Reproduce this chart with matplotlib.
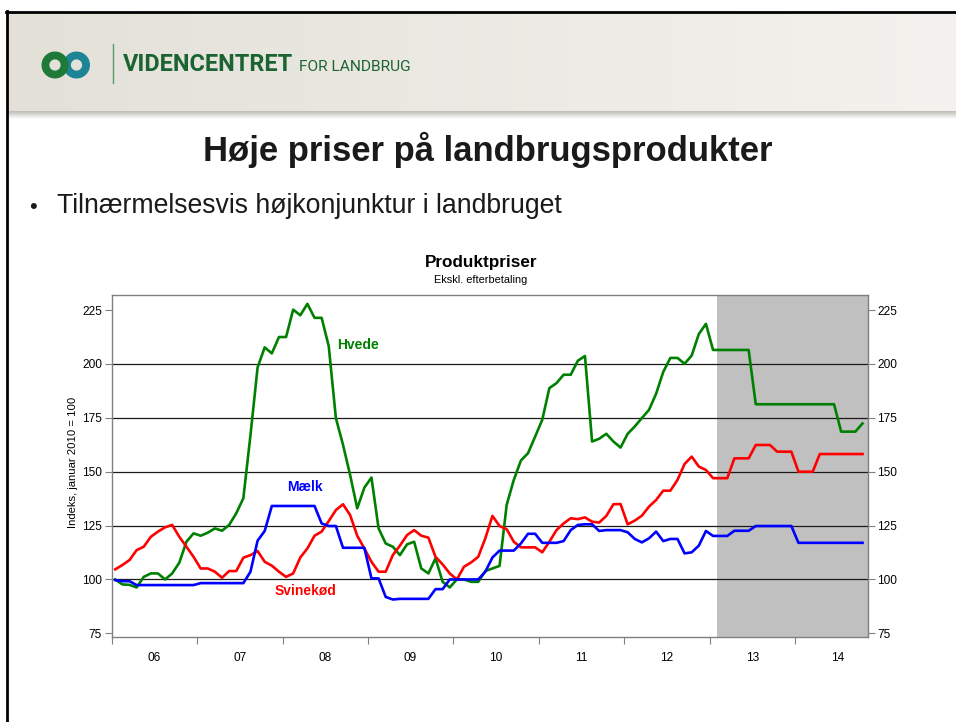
import numpy as np
import matplotlib
matplotlib.use("Agg")
import matplotlib.pyplot as plt
from matplotlib.patches import Wedge
from matplotlib.lines import Line2D
from matplotlib import font_manager

# ---------------- data (monthly, Jan 2006 - Oct 2014, index Jan 2010 = 100) ----------------
start_year = 2006
hvede = [100, 97.7, 97.5, 96.3, 101.2, 102.8, 102.8, 100, 102.8, 107.8, 117.5, 121.4,
         120.3, 121.7, 123.7, 122.6, 125.3, 130.7, 137.7, 167, 198.4, 207.7, 204.9, 212.5,
         212.5, 225.2, 222.6, 227.9, 221.4, 221.4, 208.2, 174.9, 162.5, 148.5, 133, 142.6,
         147.3, 123.7, 116.7, 115.2, 111.3, 116.3, 117.5, 105.1, 102.8, 109.8, 98.9, 96.3,
         100, 100, 98.9, 98.9, 103.9, 105.1, 106.3, 134.6, 146.2, 155.2, 158.6, 166.3,
         174.1, 188.8, 191.1, 195, 195, 201.5, 203.7, 164, 165.3, 167.6, 164, 161.2,
         167.6, 171, 174.9, 178.7, 186.2, 196.3, 202.8, 202.8, 200.1, 203.9, 213.9, 218.6,
         206.5, 206.5, 206.5, 206.5, 206.5, 206.5, 181.3, 181.3, 181.3, 181.3, 181.3, 181.3,
         181.3, 181.3, 181.3, 181.3, 181.3, 181.3, 168.6, 168.6, 168.6, 172.4]
svinekod = [104.7, 106.7, 109, 113.6, 115.2, 119.8, 122.2, 124.2, 125.3, 119.8, 115.2, 110.5,
            105.1, 105.1, 103.6, 100.8, 103.9, 103.9, 110.1, 111.3, 113.2, 108.2, 106.4, 103.6,
            101.2, 102.8, 110.2, 114.4, 120.3, 122.2, 127.1, 132.2, 134.9, 129.9, 120.3, 114.4,
            108.2, 103.6, 103.6, 111.3, 115.7, 120.6, 122.9, 120.3, 119.4, 110.5, 107, 102.8,
            100, 105.9, 107.9, 110.5, 119.1, 129.5, 124.8, 123.3, 117.5, 114.9, 114.9, 114.9,
            112.6, 117.5, 122.9, 126, 128.4, 128, 128.8, 126.8, 126.4, 129.5, 134.9, 135,
            125.6, 127.3, 129.6, 133.8, 136.9, 141.2, 141.2, 146.2, 153.6, 157, 152.4, 150.8,
            147, 147, 147, 156.2, 156.2, 156.2, 162.4, 162.4, 162.4, 159.3, 159.3, 159.3,
            150, 150, 150, 158.2, 158.2, 158.2, 158.2, 158.2, 158.2, 158.2]
maelk = [99.7, 99.2, 99.2, 97.4, 97.4, 97.4, 97.4, 97.4, 97.4, 97.4, 97.4, 97.4,
         98.3, 98.3, 98.3, 98.3, 98.3, 98.3, 98.3, 103.6, 118, 122.5, 134.1, 134.1,
         134.1, 134.1, 134.1, 134.1, 134.1, 126, 124.8, 124.8, 114.7, 114.7, 114.7, 114.7,
         100.5, 100.5, 91.9, 90.7, 91, 91, 91, 91, 91, 95.5, 95.5, 100,
         100, 100, 100, 100, 103.6, 110.2, 113.4, 113.4, 113.4, 116.7, 121.2, 121.2,
         117, 117, 117, 117.8, 122.9, 125.3, 125.6, 125.6, 122.5, 122.9, 122.9, 122.9,
         121.9, 118.8, 117.2, 119.1, 122.2, 117.8, 118.8, 118.8, 112.1, 112.6, 115.7, 122.5,
         120.2, 120.2, 120.2, 122.6, 122.6, 122.6, 124.8, 124.8, 124.8, 124.8, 124.8, 124.8,
         117, 117, 117, 117, 117, 117, 117, 117, 117, 117]
year_labels = ["06", "07", "08", "09", "10", "11", "12", "13", "14"]
yticks = [75, 100, 125, 150, 175, 200, 225]
forecast_start = 2013.09

# ---------------- figure ----------------
W, H = 956, 722
fig = plt.figure(figsize=(W / 100, H / 100), dpi=100)
fig.patch.set_facecolor("white")
plt.rcParams["font.family"] = ["Liberation Sans", "DejaVu Sans"]

# overlay axes in pixel coordinates for slide decoration
ov = fig.add_axes([0, 0, 1, 1], zorder=0)
ov.set_xlim(0, W)
ov.set_ylim(H, 0)
ov.axis("off")

grad = np.linspace(0, 1, 256)[None, :, None]
c0 = np.array([0.890, 0.882, 0.847])
c1 = np.array([0.953, 0.949, 0.933])
img = c0 * (1 - grad) + c1 * grad
ov.imshow(img, extent=(8, W, 112, 12), aspect="auto", zorder=1)
sh = np.linspace(0, 1, 32)[:, None, None]
shimg = np.array([0.74, 0.74, 0.71]) * (1 - sh) + np.array([1, 1, 1]) * sh
shimg = np.repeat(shimg, 4, axis=1)
ov.imshow(shimg, extent=(8, W, 119, 111), aspect="auto", zorder=1)

ov.add_line(Line2D([7, 7], [11, H], color="black", lw=2, zorder=3))
ov.add_line(Line2D([6, W], [12, 12], color="black", lw=2, zorder=3))

# logo
ov.add_patch(Wedge((76.5, 65), 12.8, 0, 360, width=6.5, color="#1d8496", zorder=4))
ov.add_patch(Wedge((55, 65), 12.8, 0, 360, width=6.5, color="#1f7a3a", zorder=5))
ov.add_line(Line2D([113, 113], [44, 83], color="#5a9a6a", lw=1, zorder=4))

r = fig.canvas.get_renderer()


def fit(ax, x, y, s, width_px, rotation=0, **kw):
    t = ax.text(x, y, s, **kw)
    w = t.get_window_extent(r).width
    t.set_fontsize(t.get_fontsize() * width_px / w)
    t.set_rotation(rotation)
    return t


installed = {f.name for f in font_manager.fontManager.ttflist}
narrow = "Liberation Sans Narrow" if "Liberation Sans Narrow" in installed else "Roboto"
logo_font = ["Roboto", "DejaVu Sans"]
t1 = fit(ov, 123, 71, "VIDENCENTRET", 170, fontsize=14, fontweight="bold",
         color="#1b6432", family=logo_font, ha="left", va="baseline", zorder=5)
if narrow == "Roboto":
    t2 = fit(ov, 299, 71, "FOR LANDBRUG", 112, fontsize=14, color="#1b6432",
             family=logo_font, ha="left", va="baseline", zorder=5)
else:
    t2 = ov.text(299, 71, "FOR LANDBRUG", fontsize=t1.get_fontsize(), color="#1b6432",
                 family=[narrow, "DejaVu Sans"], ha="left", va="baseline", zorder=5)

fit(ov, 488, 161, "Høje priser på landbrugsprodukter", 570, fontsize=23, fontweight="bold",
    color="#1a1a1a", ha="center", va="baseline", zorder=5)
ov.text(33, 213, "•", fontsize=16, color="#1a1a1a", ha="center", va="baseline", zorder=5)
fit(ov, 57, 213, "Tilnærmelsesvis højkonjunktur i landbruget", 506, fontsize=17,
    color="#1a1a1a", ha="left", va="baseline", zorder=5)

fit(ov, 481, 267, "Produktpriser", 113, fontsize=10, fontweight="bold",
    color="black", ha="center", va="baseline", zorder=5)
fit(ov, 481, 283, "Ekskl. efterbetaling", 93, fontsize=7, color="black",
    ha="center", va="baseline", zorder=5)
fit(ov, 73, 462, "Indeks, januar 2010 = 100", 130, rotation=90, fontsize=7.5,
    color="black", ha="center", va="center", zorder=5)

# ---------------- chart ----------------
x0, x1, y0, y1 = 111.7, 867.7, 295, 637
ax = fig.add_axes([x0 / W, 1 - y1 / H, (x1 - x0) / W, (y1 - y0) / H], zorder=2)
ax.set_facecolor("white")
px_per_year = 85.4
xmax = start_year + (x1 - x0) / px_per_year

years = np.arange(start_year, start_year + len(year_labels))
ax.set_xticks(years)
ax.set_xticklabels([])
ax.set_xticks(np.arange(len(year_labels)) + start_year + 0.5, minor=True)
ax.set_xticklabels(year_labels, minor=True)
ax.set_yticks(yticks)
ax.set_xlim(start_year, xmax)
ax.set_ylim(73.3, 232)

ax.axvspan(forecast_start, xmax, color="#c0c0c0", lw=0, zorder=0)
for g in yticks[1:-1]:
    ax.axhline(g, color="#1a1a1a", lw=0.9, zorder=1)

n = len(hvede)
x = start_year + (np.arange(n) + 0.5) / 12
ax.plot(x, hvede, color="#008000", lw=1.9, zorder=3)
ax.plot(x, svinekod, color="#ff0000", lw=1.9, zorder=3)
ax.plot(x, maelk, color="#0000ff", lw=1.9, zorder=4)

ax.text(2008.638, 208.9, "Hvede", color="#008000", fontweight="bold", fontsize=10,
        ha="left", va="center")
ax.text(2008.264, 142.7, "Mælk", color="#0000ff", fontweight="bold", fontsize=10,
        ha="center", va="center")
ax.text(2008.264, 95.0, "Svinekød", color="#ff0000", fontweight="bold", fontsize=10,
        ha="center", va="center")

for s in ax.spines.values():
    s.set_color("#808080")
    s.set_linewidth(1)

ax.tick_params(axis="y", which="major", left=True, right=True, labelleft=True,
               labelright=True, direction="out", length=5, color="#808080",
               labelsize=8.6, pad=2)
ax.tick_params(axis="x", which="major", direction="out", length=5, color="#808080")
ax.tick_params(axis="x", which="minor", length=0, labelsize=8.6, pad=11)
ax.set_xlim(start_year, xmax)

fig.savefig("out.png", dpi=100)
